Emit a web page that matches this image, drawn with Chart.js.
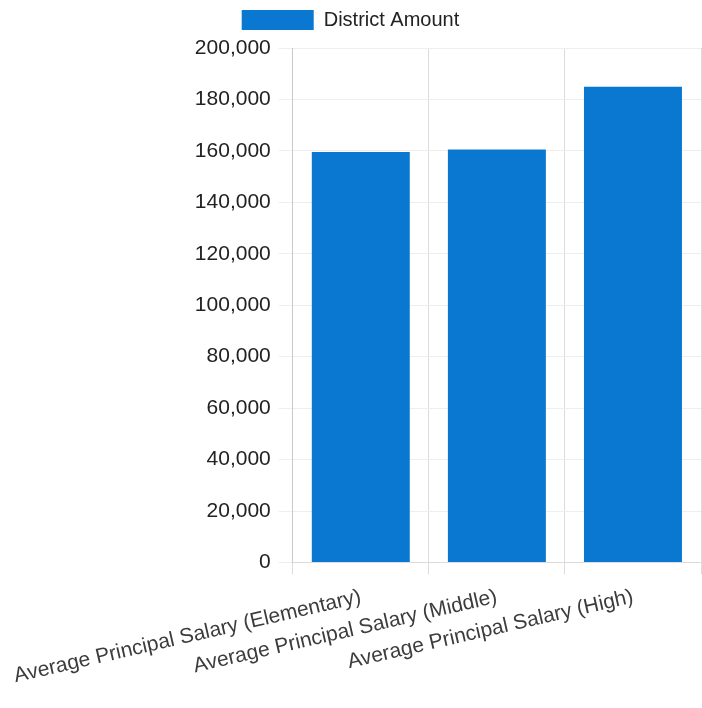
<!DOCTYPE html>
<html>
<head>
<meta charset="utf-8">
<script src="https://cdn.jsdelivr.net/npm/chart.js@4"></script>
<style>
html,body{margin:0;padding:0;background:#fff;}
#wrap{width:702px;height:708px;position:relative;}
</style>
</head>
<body>
<div id="wrap"><canvas id="c"></canvas></div>
<script>
const categories = ["Average Principal Salary (Elementary)", "Average Principal Salary (Middle)", "Average Principal Salary (High)"];
const seriesName = "District Amount";
const districtAmount = [159600, 160500, 184900];
const yTicks = [0, 20000, 40000, 60000, 80000, 100000, 120000, 140000, 160000, 180000, 200000];

const FONT = "'Liberation Sans', Arial, sans-serif";

const legendGap = {
  id: 'legendGap',
  beforeInit(chart) {
    const orig = chart.legend.fit;
    chart.legend.fit = function () { orig.call(this); this.height += 8; };
  }
};

new Chart(document.getElementById('c'), {
  type: 'bar',
  data: {
    labels: categories,
    datasets: [{
      label: seriesName,
      data: districtAmount,
      backgroundColor: '#0a78d0',
      borderWidth: 0
    }]
  },
  plugins: [legendGap],
  options: {
    responsive: true,
    maintainAspectRatio: false,
    animation: false,
    layout: { padding: { left: 0, right: 1, top: 0, bottom: 9 } },
    plugins: {
      legend: {
        position: 'top',
        labels: {
          boxWidth: 72, boxHeight: 20,
          font: { family: FONT, size: 20 },
          color: '#222',
          padding: 10
        }
      },
      tooltip: { enabled: false }
    },
    scales: {
      x: {
        afterFit: (s) => { s.paddingLeft = Math.max(0, s.paddingLeft - 16); },
        grid: { color: '#dcdcdc', tickLength: 12, offset: true },
        border: { color: '#dcdcdc' },
        ticks: {
          font: { family: FONT, size: 21 },
          color: '#3c3c3c',
          minRotation: 13, maxRotation: 13,
          autoSkip: false,
          padding: 10
        }
      },
      y: {
        min: 0, max: 200000,
        afterBuildTicks: (s) => { s.ticks = yTicks.map(v => ({ value: v })); },
        grid: { color: '#eeeeee', tickLength: 14 },
        border: { color: '#c8c8c8' },
        ticks: {
          font: { family: FONT, size: 21 },
          color: '#222',
          padding: 8,
          callback: (v) => v.toLocaleString('en-US')
        }
      }
    }
  }
});
</script>
</body>
</html>
